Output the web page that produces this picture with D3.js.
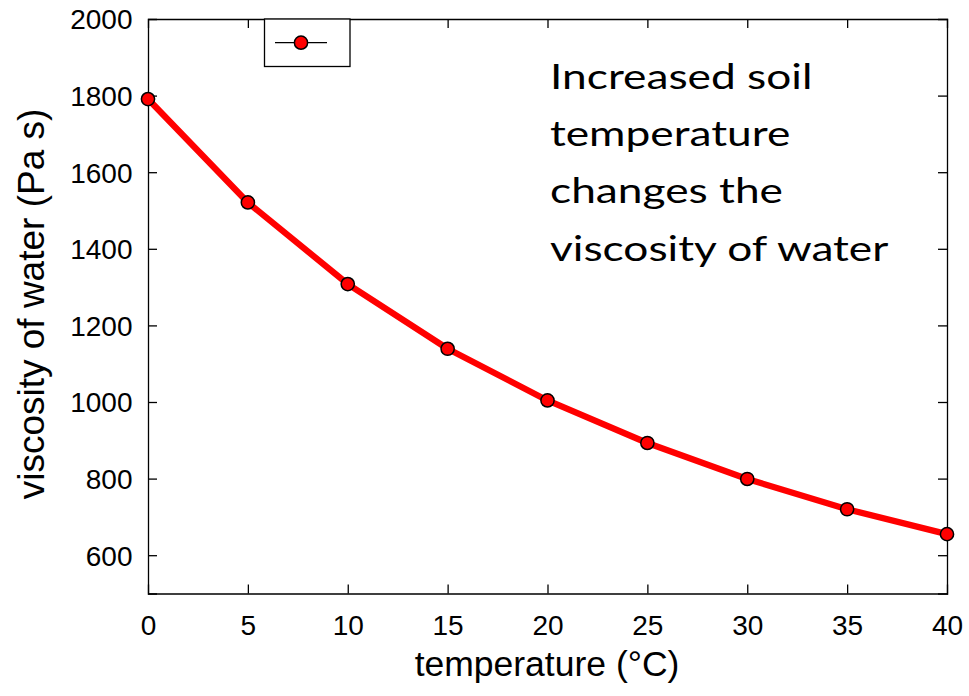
<!DOCTYPE html>
<html>
<head>
<meta charset="utf-8">
<script src="https://cdn.jsdelivr.net/npm/d3@7"></script>
<style>
  html, body { margin: 0; padding: 0; background: #fff; }
  svg { display: block; }
</style>
</head>
<body>
<svg id="chart" width="969" height="696"></svg>
<script>
// Viscosity of water against temperature
const temperatures = [0, 5, 10, 15, 20, 25, 30, 35, 40];
const viscosity = [1791, 1521, 1308, 1139, 1004, 893, 799, 720, 655];
const xTicks = [0, 5, 10, 15, 20, 25, 30, 35, 40];
const yTicks = [600, 800, 1000, 1200, 1400, 1600, 1800, 2000];
const xLabel = "temperature (°C)";
const yLabel = "viscosity of water (Pa s)";
const noteLines = ["Increased soil", "temperature", "changes the", "viscosity of water"];

const svg = d3.select("#chart");
const plotLeft = 148, plotRight = 947, plotTop = 19, plotBottom = 593.5;

const x = d3.scaleLinear().domain([0, 40]).range([plotLeft, plotRight]);
const y = d3.scaleLinear().domain([500, 2000]).range([plotBottom, plotTop]);

const axisFont = "'Liberation Sans', Arial, sans-serif";
const tickLen = 9;

// frame axes with inward ticks on all four sides
const gB = svg.append("g").attr("transform", `translate(0,${plotBottom})`)
  .call(d3.axisBottom(x).tickValues(xTicks).tickSize(-tickLen).tickFormat(d3.format("d")));
const gT = svg.append("g").attr("transform", `translate(0,${plotTop})`)
  .call(d3.axisTop(x).tickValues(xTicks).tickSize(-tickLen).tickFormat(""));
const gL = svg.append("g").attr("transform", `translate(${plotLeft},0)`)
  .call(d3.axisLeft(y).tickValues(yTicks).tickSize(-tickLen).tickFormat(d3.format("d")));
const gR = svg.append("g").attr("transform", `translate(${plotRight},0)`)
  .call(d3.axisRight(y).tickValues(yTicks).tickSize(-tickLen).tickFormat(""));

[gB, gT, gL, gR].forEach(g => {
  g.select(".domain").attr("stroke", "#000").attr("stroke-width", 1.3);
  g.selectAll(".tick line").attr("stroke", "#000").attr("stroke-width", 1.3);
  g.selectAll("text").attr("fill", "#000").style("font-family", axisFont).style("font-size", "28px");
});
gB.selectAll(".tick text").attr("dy", 0).attr("y", 41);
gL.selectAll(".tick text").attr("x", -15.5).attr("dy", "0.35em");
// drop ticks that would sit on the frame corners
gB.selectAll(".tick line").filter(d => d === 0 || d === 40).remove();
gT.selectAll(".tick line").filter(d => d === 0 || d === 40).remove();
gL.selectAll(".tick line").filter(d => d === 2000).remove();
gR.selectAll(".tick line").filter(d => d === 2000).remove();

// axis titles
svg.append("text")
  .attr("x", 547).attr("y", 676)
  .attr("text-anchor", "middle")
  .style("font-family", axisFont).style("font-size", "35.5px")
  .text(xLabel);
svg.append("text")
  .attr("transform", "translate(43.5,304) rotate(-90)")
  .attr("text-anchor", "middle")
  .style("font-family", axisFont).style("font-size", "37px")
  .text(yLabel);

// data line and markers
const data = temperatures.map((t, i) => ({ t, v: viscosity[i] }));
const line = d3.line().x(d => x(d.t)).y(d => y(d.v));
svg.append("path").datum(data)
  .attr("d", line).attr("fill", "none")
  .attr("stroke", "#ff0000").attr("stroke-width", 6.3)
  .attr("stroke-linejoin", "round").attr("stroke-linecap", "round");
svg.append("g").selectAll("circle").data(data).join("circle")
  .attr("cx", d => x(d.t)).attr("cy", d => y(d.v)).attr("r", 6.6)
  .attr("fill", "#ff0000").attr("stroke", "#000").attr("stroke-width", 1.5);

// legend box
const lg = svg.append("g");
lg.append("rect").attr("x", 264.5).attr("y", plotTop).attr("width", 85.5).attr("height", 47.5)
  .attr("fill", "#fff").attr("stroke", "#000").attr("stroke-width", 1.3);
lg.append("line").attr("x1", 275).attr("x2", 327).attr("y1", 42.7).attr("y2", 42.7)
  .attr("stroke", "#000").attr("stroke-width", 1.3);
lg.append("circle").attr("cx", 301).attr("cy", 42.7).attr("r", 6.6)
  .attr("fill", "#ff0000").attr("stroke", "#000").attr("stroke-width", 1.5);

// annotation, set in a wide text box
svg.append("text")
  .attr("transform", "translate(550,0) scale(1.265,1)")
  .style("font-family", "Lato, 'Open Sans', sans-serif").style("font-size", "35px")
  .selectAll("tspan").data(noteLines).join("tspan")
  .attr("x", 0).attr("y", (d, i) => 89 + i * 57.2)
  .text(d => d);
</script>
</body>
</html>
